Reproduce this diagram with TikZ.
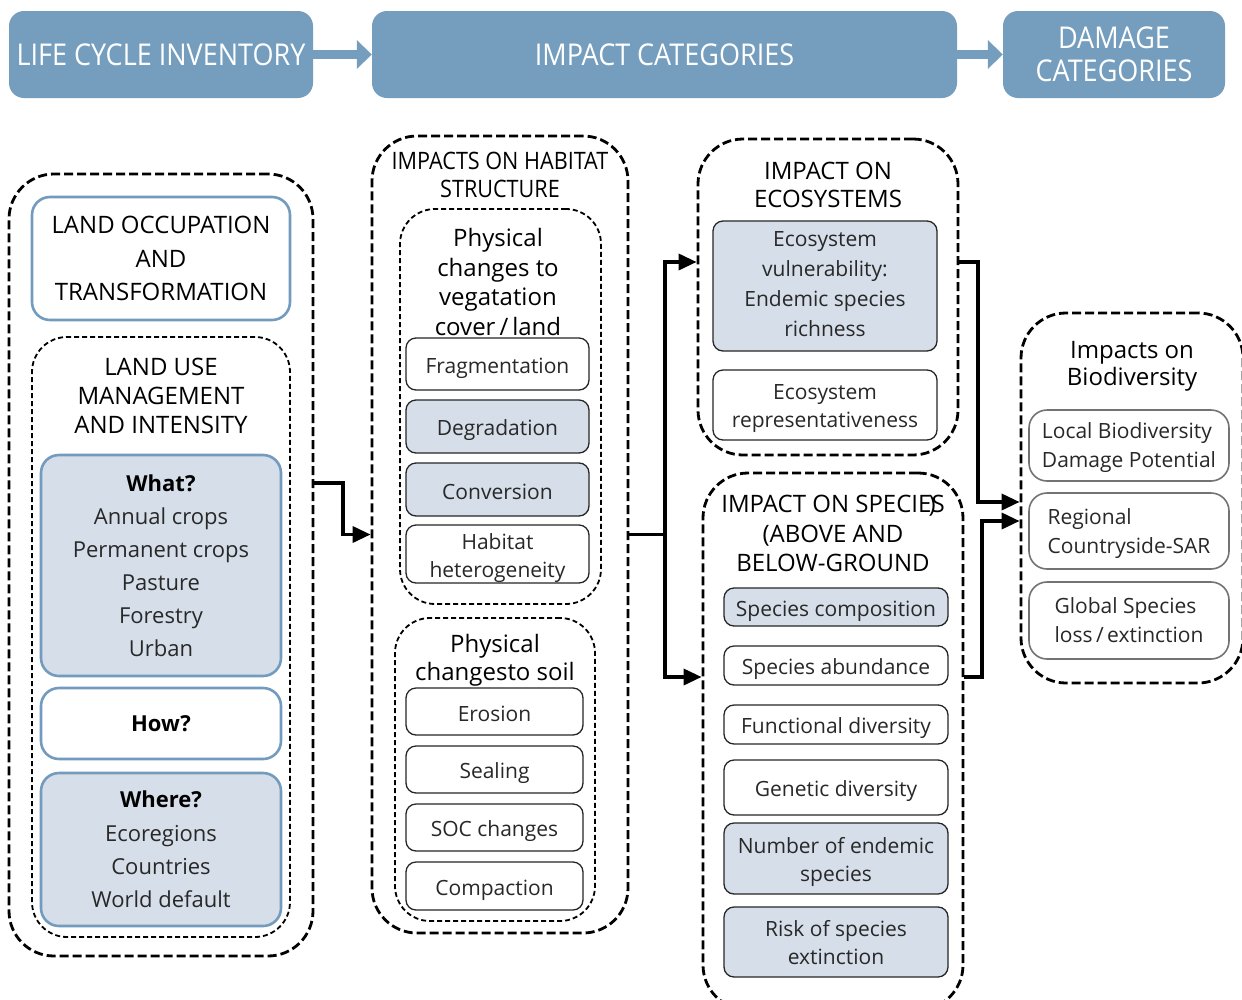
\documentclass[tikz,border=0pt]{standalone}
\usepackage{fontspec}
\setmainfont{Open Sans}
\newfontfamily\condfont[FakeStretch=0.9]{Open Sans}
\usetikzlibrary{arrows.meta}
\definecolor{hdrblue}{RGB}{117,158,190}
\definecolor{boxblue}{RGB}{115,155,190}
\definecolor{lightfill}{RGB}{214,222,233}
\definecolor{txt}{RGB}{40,40,40}
\newcommand\fs[2]{\fontsize{#1}{#2}\selectfont}
\newcommand\lowstrut{\rule[-5pt]{0pt}{29pt}}
\begin{document}
\begin{tikzpicture}[x=1pt,y=-1pt,
  hdr/.style={fill=hdrblue, rounded corners=15pt, text=white, inner sep=0pt, align=center, font=\condfont\fs{30}{32.5}},
  harrow/.style={draw=hdrblue, line width=9pt, -{Triangle[length=15pt,width=28pt]}},
  outerdash/.style={draw, line width=2.8pt, dash pattern=on 9pt off 4pt, rounded corners=45pt, inner sep=0pt},
  innerdash/.style={draw, line width=1.8pt, dash pattern=on 5pt off 3pt, rounded corners=35pt, inner sep=0pt},
  bluebox/.style={draw=boxblue, line width=2.6pt, rounded corners=18pt, align=center, inner sep=0pt, text=black},
  item/.style={draw=black!85, line width=1.3pt, rounded corners=10pt, align=center, inner sep=0pt, text=txt, font=\fs{21}{27}, execute at begin node=\lowstrut},
  itemf/.style={item, fill=lightfill},
  gitem/.style={draw=black!55, line width=1.6pt, rounded corners=18pt, inner sep=0pt},
  mlab/.style 2 args={label={[align=center, text=txt, inner sep=0pt, yshift=#2, font=\fs{21}{28}]center:#1}},
  glab/.style 2 args={label={[align=left, text=txt, inner sep=0pt, yshift=#2, font=\fs{21}{29}]center:#1}},
  ttl/.style={align=center, inner sep=0pt, text=black},
  conn/.style={line width=3.5pt, -{Triangle[length=18pt,width=16pt]}},
  plain/.style={line width=3.5pt}
]
\useasboundingbox (0,0) rectangle (1242,999);
\fill[white] (0,0) rectangle (1242,999);

% header
\node[hdr, minimum width=304pt, minimum height=87pt] (lci) at (161,54.5) {LIFE CYCLE INVENTORY};
\node[hdr, minimum width=585pt, minimum height=87pt] (ic) at (664.5,54.5) {IMPACT CATEGORIES};
\node[hdr, minimum width=222pt, minimum height=87pt] (dc) at (1114,54.5) {DAMAGE\\CATEGORIES};
\draw[harrow] (lci) -- (ic);
\draw[harrow] (ic) -- (dc);

% left column
\node[outerdash, minimum width=304pt, minimum height=782pt] (lcol) at (161,565) {};
\node[bluebox, minimum width=258pt, minimum height=123pt, font=\fs{24}{33.5}] (occ) at (161,258.5) {LAND OCCUPATION\\AND\\TRANSFORMATION};
\node[innerdash, minimum width=258pt, minimum height=600pt] (lum) at (161,637) {};
\node[ttl, font=\fs{24}{29}] (lumt) at (161,396) {LAND USE\\MANAGEMENT\\AND INTENSITY};
\node[bluebox, fill=lightfill, minimum width=240pt, minimum height=221pt, font=\fs{22}{33}] (what) at (161,565.5) {\textbf{What?}\\\color{txt}Annual crops\\\color{txt}Permanent crops\\\color{txt}Pasture\\\color{txt}Forestry\\\color{txt}Urban};
\node[bluebox, minimum width=240pt, minimum height=71pt, font=\fs{22}{33}] (how) at (161,723.5) {\textbf{How?}};
\node[bluebox, fill=lightfill, minimum width=240pt, minimum height=153pt, font=\fs{22}{33.3}] (where) at (161,849.5) {\textbf{Where?}\\\color{txt}Ecoregions\\\color{txt}Countries\\\color{txt}World default};

% middle column
\node[outerdash, minimum width=256pt, minimum height=797pt] (mid) at (500,534.5) {};
\node[ttl, font=\condfont\fs{24}{28}] (midt) at (500,175) {IMPACTS ON HABITAT\\STRUCTURE};
\node[innerdash, minimum width=201pt, minimum height=395pt] (veg) at (500.5,406.5) {};
\node[ttl, font=\fs{24}{29.7}] (vegt) at (498,282) {Physical\\changes to\\vegatation\\cover\,/\,land};
\node[item, minimum width=183pt, minimum height=52pt] (frag) at (497.5,364) {Fragmentation};
\node[itemf, minimum width=183pt, minimum height=53pt] (degr) at (497.5,426.5) {Degradation};
\node[itemf, minimum width=183pt, minimum height=53pt] (conv) at (497.5,489.5) {Conversion};
\node[item, minimum width=183pt, minimum height=58pt, mlab={Habitat\\heterogeneity}{-4pt}] (het) at (497.5,554) {};
\node[innerdash, minimum width=200pt, minimum height=303pt] (soil) at (495,769.5) {};
\node[ttl, font=\fs{24}{28}] (soilt) at (495,660) {Physical\\changesto soil};
\node[item, minimum width=177pt, minimum height=47pt] (eros) at (494.5,711.5) {Erosion};
\node[item, minimum width=177pt, minimum height=47pt] (seal) at (494.5,769.5) {Sealing};
\node[item, minimum width=177pt, minimum height=47pt] (soc) at (494.5,827.5) {SOC changes};
\node[item, minimum width=177pt, minimum height=48pt] (comp) at (494.5,886) {Compaction};

% ecosystems
\node[outerdash, minimum width=260pt, minimum height=316pt] (eco) at (828,297) {};
\node[ttl, font=\fs{24}{28}] (ecot) at (828,185) {IMPACT ON\\ECOSYSTEMS};
\node[itemf, minimum width=224pt, minimum height=130pt, font=\fs{21}{30}] (vuln) at (825,286) {Ecosystem\\vulnerability:\\Endemic species\\richness};
\node[item, minimum width=224pt, minimum height=70pt, mlab={Ecosystem\\representativeness}{-3.5pt}] (repr) at (825,405) {};

% species
\node[outerdash, minimum width=260pt, minimum height=537pt] (spc) at (833,741.5) {};
\node[ttl, font=\fs{24}{29.5}] (spct) at (833,533.5) {IMPACT ON SPECIE\rlap{\kern-3pt)}S\\(ABOVE AND\\BELOW-GROUND};
\node[itemf, minimum width=224pt, minimum height=38pt] (scomp) at (836,607) {Species composition};
\node[item, minimum width=224pt, minimum height=39pt] (sabun) at (836,665.5) {Species abundance};
\node[item, minimum width=224pt, minimum height=39pt] (func) at (836,724.5) {Functional diversity};
\node[item, minimum width=224pt, minimum height=55pt] (gen) at (836,787.5) {Genetic diversity};
\node[itemf, minimum width=224pt, minimum height=71pt, mlab={Number of endemic\\species}{-3.5pt}] (endem) at (836,858.5) {};
\node[itemf, minimum width=224pt, minimum height=70pt, mlab={Risk of species\\extinction}{-0.5pt}] (risk) at (836,942) {};

% biodiversity
\node[outerdash, minimum width=222pt, minimum height=370pt] (bio) at (1132,498) {};
\node[ttl, font=\fs{24}{27}] (biot) at (1132,366) {Impacts on\\Biodiversity};
\node[gitem, minimum width=200pt, minimum height=71pt, glab={Local Biodiversity\\Damage Potential}{-2.5pt}] (local) at (1129,445.5) {};
\node[gitem, minimum width=200pt, minimum height=76pt, glab={Regional\\Countryside-SAR}{-2.5pt}] (reg) at (1129,531) {};
\node[gitem, minimum width=200pt, minimum height=77pt, glab={Global Species\\loss\,/\,extinction}{0.5pt}] (glob) at (1129,620.5) {};

% connectors
\draw[conn] (lcol.east |- 0,483) -- (343,483) |- (mid.west);
\draw[plain] (mid.east) -- (665,534.5) coordinate (j);
\draw[conn] (j) |- (eco.west |- 0,262);
\draw[conn] (j) |- (spc.west |- 0,677);
\draw[conn] (eco.east |- 0,262) -- (978,262) |- (bio.west |- 0,502);
\draw[conn] (spc.east |- 0,677) -- (982,677) |- (bio.west |- 0,521);
\end{tikzpicture}
\end{document}
